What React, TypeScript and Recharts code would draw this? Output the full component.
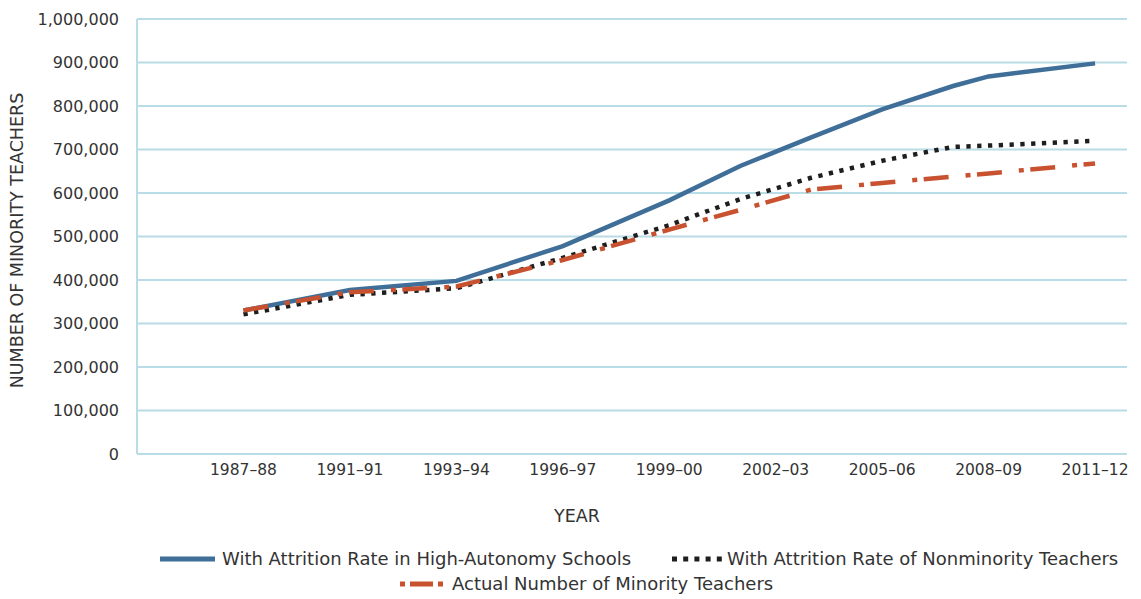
import { CartesianGrid, Label, Legend, Line, LineChart, XAxis, YAxis } from 'recharts';

// School years (start year) at which the projected series bend.
const YEARS = [1987, 1990, 1993, 1996, 1999, 2001, 2003, 2005, 2007, 2008, 2011];
const HIGH_AUTONOMY = [330000, 377000, 398000, 478000, 583000, 662000, 728000, 792000, 846000, 868000, 898000];
const NONMINORITY = [321000, 366000, 381000, 451000, 526000, 586000, 635000, 674000, 706000, 709000, 720000];
const ACTUAL = [330000, 372000, 385000, 446000, 516000, 561000, 608000, 623000, 638000, 645000, 668000];

const TICK_YEARS = [1987, 1990, 1993, 1996, 1999, 2002, 2005, 2008, 2011];
const TICK_LABELS = ['1987–88', '1991–91', '1993–94', '1996–97', '1999–00', '2002–03', '2005–06', '2008–09', '2011–12'];
const Y_TICKS = [0, 100000, 200000, 300000, 400000, 500000, 600000, 700000, 800000, 900000, 1000000];

const SERIES_NAMES = {
  highAutonomy: 'With Attrition Rate in High-Autonomy Schools',
  nonminority: 'With Attrition Rate of Nonminority Teachers',
  actual: 'Actual Number of Minority Teachers',
};

const FONT = '"DejaVu Sans", sans-serif';
const TEXT = '#333333';
const GRID = '#b9dce6';
const BLUE = '#3f6e98';
const BLACK = '#1e1e1e';
const ORANGE = '#c85230';

const data = YEARS.map((year, i) => ({
  year,
  highAutonomy: HIGH_AUTONOMY[i],
  nonminority: NONMINORITY[i],
  actual: ACTUAL[i],
}));

const labelFor = (year: number) => TICK_LABELS[TICK_YEARS.indexOf(year)] ?? '';

// legend items are placed by hand, like the original two-row layout
const LEGEND_LAYOUT: Record<string, { left: number; top: number; swatch: number; gap: number }> = {
  highAutonomy: { left: 160, top: 0, swatch: 55, gap: 7 },
  nonminority: { left: 672, top: 0, swatch: 50, gap: 5 },
  actual: { left: 400, top: 25, swatch: 48, gap: 4 },
};

function Swatch({ dataKey, width }: { dataKey: string; width: number }) {
  let dash: string | undefined;
  let color = BLUE;
  if (dataKey === 'nonminority') {
    color = BLACK;
    dash = '5 6.2';
  } else if (dataKey === 'actual') {
    color = ORANGE;
    dash = '5 5 23 5 5';
  }
  return (
    <svg width={width} height={10} style={{ display: 'block' }}>
      <line x1={0} y1={5} x2={width} y2={5} stroke={color} strokeWidth={5} strokeDasharray={dash} />
    </svg>
  );
}

function ChartLegend(props: any) {
  const payload = props.payload ?? [];
  return (
    <div style={{ position: 'relative', width: 1141, height: 52, fontFamily: FONT, fontSize: 18, color: TEXT }}>
      {payload.map((entry: any) => {
        const key = String(entry.dataKey);
        const pos = LEGEND_LAYOUT[key];
        if (!pos) return null;
        return (
          <div
            key={key}
            style={{
              position: 'absolute',
              left: pos.left,
              top: pos.top,
              height: 25,
              display: 'flex',
              alignItems: 'center',
              whiteSpace: 'nowrap',
              lineHeight: '25px',
            }}
          >
            <Swatch dataKey={key} width={pos.swatch} />
            <span style={{ marginLeft: pos.gap }}>{entry.value}</span>
          </div>
        );
      })}
    </div>
  );
}

function YTitle(props: any) {
  const vb = props.viewBox ?? { x: 0, y: 0, width: 0, height: 0 };
  const cx = vb.x + 17;
  const cy = vb.y + vb.height / 2 + 4;
  return (
    <text
      x={cx}
      y={cy}
      transform={`rotate(-90 ${cx} ${cy})`}
      textAnchor="middle"
      dominantBaseline="central"
      fontFamily={FONT}
      fontSize={17.5}
      fill={TEXT}
    >
      NUMBER OF MINORITY TEACHERS
    </text>
  );
}

export default function App() {
  return (
    <div style={{ position: 'absolute', left: 0, top: 0, width: 1141, height: 599, background: '#fff' }}>
      <LineChart
        width={1141}
        height={599}
        data={data}
        margin={{ top: 19, right: 14, bottom: 70, left: 0 }}
        style={{ fontFamily: FONT }}
      >
        <CartesianGrid vertical={false} stroke={GRID} strokeWidth={2} />
        <XAxis
          dataKey="year"
          type="number"
          domain={[1984, 2011.9]}
          ticks={TICK_YEARS}
          tickFormatter={labelFor}
          interval={0}
          height={75}
          tickLine={false}
          tickSize={0}
          tickMargin={10}
          axisLine={{ stroke: GRID, strokeWidth: 2 }}
          tick={{ fontSize: 15.5, fill: TEXT, fontFamily: FONT }}
        >
          <Label value="YEAR" position="insideBottom" offset={7} dx={-55} fontSize={17.5} fill={TEXT} fontFamily={FONT} />
        </XAxis>
        <YAxis
          type="number"
          domain={[0, 1000000]}
          ticks={Y_TICKS}
          interval={0}
          width={137}
          tickLine={false}
          tickSize={0}
          tickMargin={18}
          axisLine={{ stroke: GRID, strokeWidth: 2 }}
          tickFormatter={(v: number) => v.toLocaleString('en-US')}
          tick={{ fontSize: 16, fill: TEXT, fontFamily: FONT }}
          label={<YTitle />}
        />
        <Legend
          layout="horizontal"
          verticalAlign="middle"
          align="center"
          content={<ChartLegend />}
          wrapperStyle={{ top: 546, left: 0, width: 1141 }}
        />
        <Line
          dataKey="highAutonomy"
          name={SERIES_NAMES.highAutonomy}
          type="linear"
          stroke={BLUE}
          strokeWidth={4.5}
          dot={false}
          activeDot={false}
          isAnimationActive={false}
        />
        <Line
          dataKey="nonminority"
          name={SERIES_NAMES.nonminority}
          type="linear"
          stroke={BLACK}
          strokeWidth={4.5}
          strokeDasharray="4.3 6.5"
          dot={false}
          activeDot={false}
          isAnimationActive={false}
        />
        <Line
          dataKey="actual"
          name={SERIES_NAMES.actual}
          type="linear"
          stroke={ORANGE}
          strokeWidth={4.5}
          strokeDasharray="25 17 5 6.5"
          dot={false}
          activeDot={false}
          isAnimationActive={false}
        />
      </LineChart>
    </div>
  );
}
